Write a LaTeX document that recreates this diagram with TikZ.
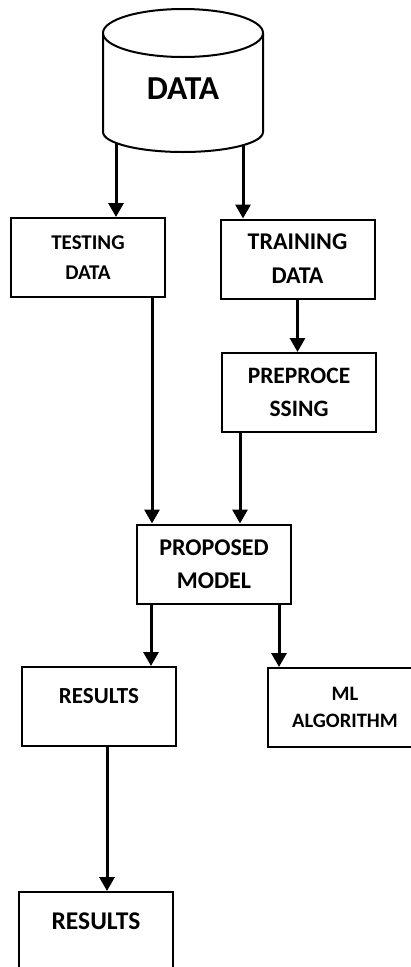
\documentclass[tikz,border=0pt]{standalone}
\usepackage{fontspec}
\setmainfont{Carlito}
\usepackage{tikz}
\usetikzlibrary{arrows.meta}
\tikzset{
  box/.style={draw=black, line width=2pt, minimum width=154pt, minimum height=79pt, inner sep=0pt, align=center},
  sz/.style 2 args={font=\bfseries\fontsize{#1}{#2}\selectfont},
  arr/.style={draw=black, line width=3pt, -{Triangle[length=14pt,width=15pt]}},
  drum/.style={draw=black, line width=2pt, fill=white},
}

\begin{document}
\begin{tikzpicture}[x=1pt,y=-1pt]
  \useasboundingbox (0,0) rectangle (411,967);
  \clip (0,0) rectangle (411,967);

  % data store
  \draw[drum] (103,33) -- (103,132) arc[start angle=180,end angle=0,x radius=80,y radius=20] -- (263,33);
  \draw[drum] (183,33) ellipse[x radius=80,y radius=24];
  \node[sz={33.5}{40}] (data) at (183,88.5) {DATA};
  \coordinate (dL) at (116,143);
  \coordinate (dR) at (243,145);

  \node[box,sz={21}{30}] (test) at (88,257.5) {TESTING\\DATA};
  \node[box,sz={24}{34}] (train) at (297.5,259) {TRAINING\\DATA};
  \node[box,sz={23.5}{33}] (prep) at (299,392.5) {PREPROCE\\SSING};
  \node[box,sz={24}{33}] (prop) at (214,564) {PROPOSED\\MODEL};
  \node[box,sz={23}{33},text depth=21pt] (res) at (99,706.5) {RESULTS};
  \node[box,sz={20.5}{27}] (ml) at (345,707.5) {ML\\ALGORITHM};
  \node[box,sz={25.5}{33},text depth=20pt] (final) at (96,931.5) {RESULTS};

  \draw[arr] (dL) -- (dL |- test.north);
  \draw[arr] (dR) -- (dR |- train.north);
  \draw[arr] ([xshift=64pt]test.south) -- ([xshift=64pt]test.south |- prop.north);
  \draw[arr] (train.south) -- (train.south |- prep.north);
  \draw[arr] ([xshift=-59pt]prep.south) -- ([xshift=-59pt]prep.south |- prop.north);
  \draw[arr] ([xshift=-63pt]prop.south) -- ([xshift=-63pt]prop.south |- res.north);
  \draw[arr] ([xshift=65pt]prop.south) -- ([xshift=65pt]prop.south |- ml.north);
  \draw[arr] ([xshift=8pt]res.south) -- ([xshift=8pt]res.south |- final.north);
\end{tikzpicture}
\end{document}
